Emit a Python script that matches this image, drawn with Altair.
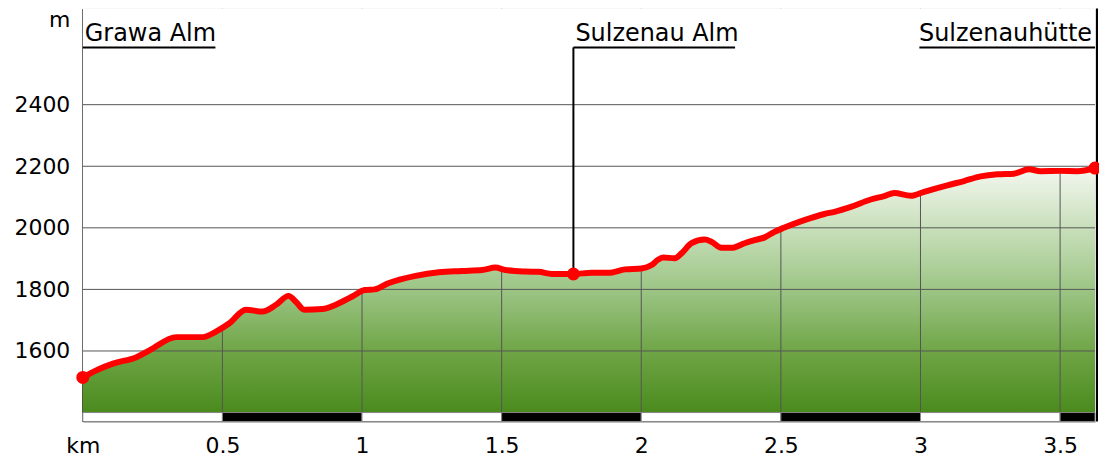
import altair as alt
import pandas as pd

# ---- profile data (km, m) ----
km = [0.0, 0.055, 0.108, 0.192, 0.239, 0.335, 0.43, 0.477, 0.525, 0.584, 0.644,
      0.692, 0.737, 0.763, 0.793, 0.858, 0.906, 0.965, 1.01, 1.045, 1.094, 1.192,
      1.275, 1.358, 1.43, 1.478, 1.513, 1.585, 1.632, 1.68, 1.757, 1.823, 1.882,
      1.942, 2.001, 2.037, 2.061, 2.079, 2.12, 2.144, 2.18, 2.227, 2.251, 2.287,
      2.323, 2.37, 2.406, 2.442, 2.477, 2.513, 2.584, 2.656, 2.692, 2.751, 2.822,
      2.87, 2.906, 2.965, 3.013, 3.096, 3.156, 3.215, 3.275, 3.335, 3.388, 3.43,
      3.501, 3.561, 3.625]
elev = [1514, 1540, 1559, 1580, 1602, 1645, 1645, 1663, 1690, 1734, 1728,
        1750, 1779, 1760, 1734, 1736, 1750, 1777, 1798, 1800, 1820, 1844,
        1856, 1860, 1863, 1871, 1863, 1858, 1857, 1850, 1850, 1854, 1854,
        1865, 1868, 1879, 1897, 1904, 1901, 1917, 1950, 1962, 1955, 1935,
        1935, 1950, 1960, 1969, 1987, 2001, 2025, 2045, 2052, 2068, 2092,
        2103, 2113, 2104, 2117, 2138, 2152, 2167, 2174, 2176, 2190, 2184,
        2185, 2184, 2194]

axis_km = [0, 0.5, 1, 1.5, 2, 2.5, 3, 3.5]
grid_km = [0.5, 1, 1.5, 2, 2.5, 3, 3.5]
y_ticks = [1600, 1800, 2000, 2200, 2400]
grid_elev = [1400, 1600, 1800, 2000, 2200, 2400]
unit_m_pos = 2676

band_start = [0, 0.5, 1, 1.5, 2, 2.5, 3, 3.5]
band_end = [0.5, 1, 1.5, 2, 2.5, 3, 3.5, 3.625]
band_fill = ["white", "black", "white", "black", "white", "black", "white", "black"]

place_names = ["Grawa Alm", "Sulzenau Alm", "Sulzenauhütte"]
place_km = [0.0, 1.757, 3.625]
place_elev = [1514, 1850, 2194]
place_line_start = [0.0, 1.757, 2.996]
place_line_end = [0.475, 2.336, 3.625]
place_align = ["left", "left", "right"]

X_DOMAIN = [0, 3.625]
Y_MIN, Y_MAX = 1371, 2712
BASE = 1400
LINE_Y = 2586
TEXT_Y = 2608
FONT = "DejaVu Sans"

profile = pd.DataFrame({"km": km, "elev": elev})
profile["base"] = BASE
profile["top"] = Y_MAX

xscale = alt.Scale(domain=X_DOMAIN, nice=False, zero=False)
yscale = alt.Scale(domain=[Y_MIN, Y_MAX], nice=False, zero=False)

xaxis = alt.Axis(values=axis_km, format="~g",
                 labelExpr="datum.value == 0 ? 'km' : datum.label",
                 title=None, grid=False, ticks=False, labelPadding=14,
                 labelFontSize=22, labelFont=FONT, labelColor="black",
                 domainColor="#888888", domainWidth=1, labelFlush=False,
                 labelOverlap=False)
yaxis = alt.Axis(values=y_ticks + [unit_m_pos], format="d",
                 labelExpr="datum.value > 2600 ? 'm' : datum.label",
                 title=None, grid=False, ticks=False, labelPadding=13,
                 labelFontSize=22, labelFont=FONT, labelColor="black",
                 domainColor="black", domainWidth=2, labelFlush=False,
                 labelOverlap=False)


def X(f):
    return alt.X(f, type="quantitative", scale=xscale, axis=xaxis)


def Y(f):
    return alt.Y(f, type="quantitative", scale=yscale, axis=yaxis)


gradient = alt.Gradient(
    gradient="linear", x1=0, x2=0, y1=0, y2=1,
    stops=[
        alt.GradientStop(color="#f3f7ef", offset=0),
        alt.GradientStop(color="#c8dfba", offset=0.25),
        alt.GradientStop(color="#9cc585", offset=0.5),
        alt.GradientStop(color="#6fa546", offset=0.75),
        alt.GradientStop(color="#4a8b1d", offset=1),
    ],
)

area = alt.Chart(profile).mark_area(color=gradient, interpolate="monotone").encode(
    x=X("km"), y=Y("elev"), y2="base")

vgrid_df = pd.DataFrame({"km": grid_km, "lo": BASE, "hi": Y_MAX})
vgrid = alt.Chart(vgrid_df).mark_rule(color="#555555", strokeWidth=1).encode(
    x=X("km"), y=Y("lo"), y2="hi")

mask = alt.Chart(profile).mark_area(color="white", interpolate="monotone").encode(
    x=X("km"), y=Y("elev"), y2="top")

hgrid_df = pd.DataFrame({"elev": grid_elev})
hgrid = alt.Chart(hgrid_df).mark_rule(color="#555555", strokeWidth=1).encode(
    y=Y("elev"))

band_df = pd.DataFrame({"start": band_start, "end": band_end, "fill": band_fill,
                        "lo": Y_MIN, "hi": BASE})
band = alt.Chart(band_df).mark_rect(stroke="#888888", strokeWidth=1).encode(
    x=X("start"), x2="end", y=Y("lo"), y2="hi",
    fill=alt.Fill("fill:N", scale=None))

ul_df = pd.DataFrame({"start": place_line_start, "end": place_line_end, "y": LINE_Y})
underline = alt.Chart(ul_df).mark_rule(color="black", strokeWidth=2).encode(
    x=X("start"), x2="end", y=Y("y"))

vm_df = pd.DataFrame({"km": [place_km[1]], "lo": [place_elev[1]], "hi": [LINE_Y]})
vmarker = alt.Chart(vm_df).mark_rule(color="black", strokeWidth=2).encode(
    x=X("km"), y=Y("lo"), y2="hi")

right_df = pd.DataFrame({"km": [X_DOMAIN[1]], "lo": [Y_MIN], "hi": [Y_MAX]})
right_line = alt.Chart(right_df).mark_rule(color="black", strokeWidth=2, xOffset=2).encode(
    x=X("km"), y=Y("lo"), y2="hi")

line = alt.Chart(profile).mark_line(color="#ff0000", strokeWidth=6,
                                    interpolate="monotone",
                                    strokeCap="round", strokeJoin="round").encode(
    x=X("km"), y=Y("elev"))

pts_df = pd.DataFrame({"km": place_km, "elev": place_elev})
points = alt.Chart(pts_df).mark_circle(color="#ff0000", size=170, opacity=1).encode(
    x=X("km"), y=Y("elev"))

lab_df = pd.DataFrame({"km": place_km, "name": place_names, "align": place_align,
                       "y": TEXT_Y})
text_left = alt.Chart(lab_df[lab_df["align"] == "left"]).mark_text(
    align="left", baseline="alphabetic", dx=2, fontSize=24, font=FONT,
    color="black").encode(x=X("km"), y=Y("y"), text="name:N")
text_right = alt.Chart(lab_df[lab_df["align"] == "right"]).mark_text(
    align="right", baseline="alphabetic", dx=-3, fontSize=24, font=FONT,
    color="black").encode(x=X("km"), y=Y("y"), text="name:N")

chart = alt.layer(
    area, vgrid, mask, hgrid, band, underline, vmarker, right_line,
    line, points, text_left, text_right
).properties(
    width=1015, height=414,
    padding={"left": 75, "top": 0, "right": 4, "bottom": 37},
    autosize=alt.AutoSizeParams(type="none"),
).configure_view(strokeWidth=0).configure(background="white")

chart.save("out.html", embed_options={"renderer": "svg", "actions": False})
